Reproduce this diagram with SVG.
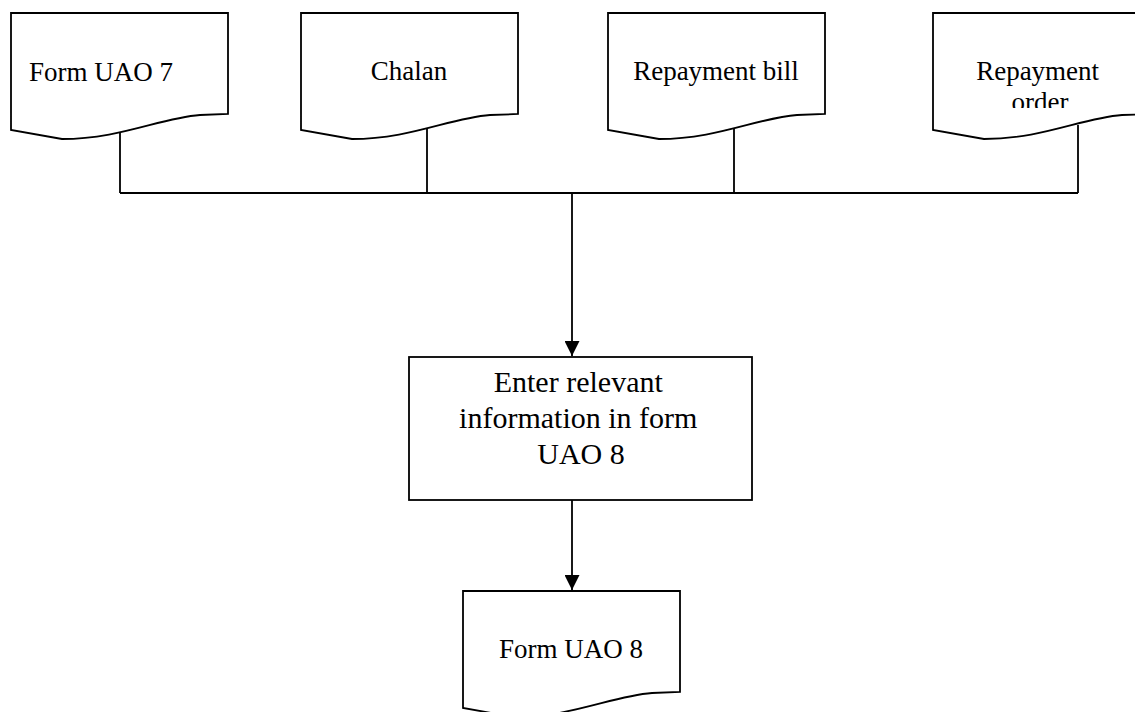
<svg xmlns="http://www.w3.org/2000/svg" width="1135" height="712" viewBox="0 0 1135 712">
  <style>
    .shape { fill: #ffffff; stroke: #000000; stroke-width: 1.8; }
    .line { fill: none; stroke: #000000; stroke-width: 1.8; }
    .label { font-family: "Liberation Serif", "Times New Roman", serif; font-size: 27px; fill: #000000; }
    .boxlabel { font-family: "Liberation Serif", "Times New Roman", serif; font-size: 30px; fill: #000000; text-anchor: middle; }
  </style>
  <defs>
    <!-- document symbol with wavy bottom edge, origin at top-left -->
    <path id="doc" d="M0,0 H217 V101 L189,102 C149,105 109,126 51,126 L0,117 Z"/>
    <marker id="arrow" markerWidth="15" markerHeight="15" refX="15" refY="7.5" orient="auto" markerUnits="userSpaceOnUse">
      <path d="M0,0 L15,7.5 L0,15 Z" fill="#000000"/>
    </marker>
    <clipPath id="clipOrder">
      <rect x="933" y="13" width="202" height="95"/>
    </clipPath>
  </defs>

  <rect width="1135" height="712" fill="#ffffff"/>

  <g id="connectors">
    <path class="line" d="M120,132 V193 M427,125 V193 M734,125 V193 M1078,125 V193 M120,193 H1078"/>
    <path class="line" d="M572,193 V356" marker-end="url(#arrow)"/>
    <path class="line" d="M572,500 V590" marker-end="url(#arrow)"/>
  </g>

  <g id="form-uao-7">
    <use href="#doc" class="shape" x="11" y="13"/>
    <text class="label" x="29" y="81">Form UAO 7</text>
  </g>

  <g id="chalan">
    <use href="#doc" class="shape" x="301" y="13"/>
    <text class="label" x="409" y="80" text-anchor="middle">Chalan</text>
  </g>

  <g id="repayment-bill">
    <use href="#doc" class="shape" x="608" y="13"/>
    <text class="label" x="716" y="80" text-anchor="middle">Repayment bill</text>
  </g>

  <g id="repayment-order">
    <use href="#doc" class="shape" x="933" y="13"/>
    <text class="label" text-anchor="middle" clip-path="url(#clipOrder)">
      <tspan x="1041" y="80">Repayment</tspan>
      <tspan x="1040" y="111">order</tspan>
    </text>
  </g>

  <g id="enter-information">
    <rect class="shape" x="409" y="357" width="343" height="143"/>
    <text class="boxlabel">
      <tspan x="582" y="392">Enter relevant</tspan>
      <tspan x="582" y="428">information in form</tspan>
      <tspan x="581" y="464">UAO 8</tspan>
    </text>
  </g>

  <g id="form-uao-8">
    <use href="#doc" class="shape" x="463" y="591"/>
    <text class="label" x="571" y="658" text-anchor="middle">Form UAO 8</text>
  </g>
</svg>
